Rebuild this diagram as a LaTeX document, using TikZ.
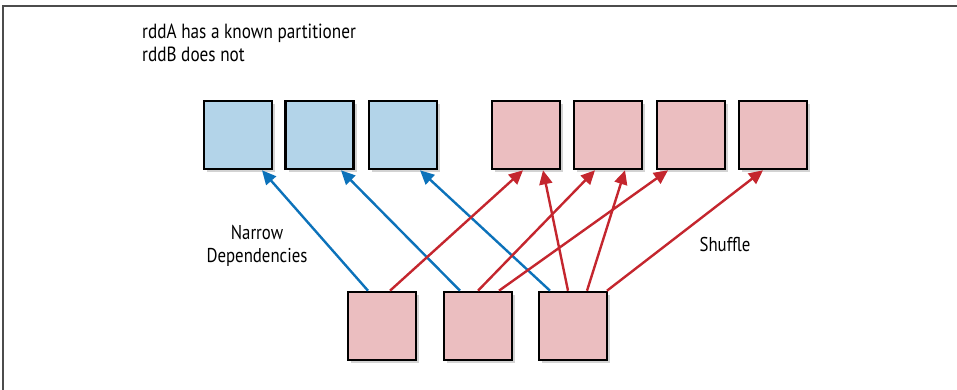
\documentclass[tikz,border=0pt]{standalone}
\usepackage{fontspec}
\setmainfont{PT Sans}[FakeStretch=0.84]
\usetikzlibrary{arrows.meta,shadows}
\definecolor{rddAcolor}{HTML}{B3D4E9}
\definecolor{rddBcolor}{HTML}{EBBEC0}
\definecolor{narrowcolor}{HTML}{0C72BA}
\definecolor{shufflecolor}{HTML}{C4262E}
\tikzset{
  part/.style={draw=black, line width=2.6pt, rectangle, minimum width=68pt, minimum height=68pt, inner sep=0pt,
    drop shadow={shadow xshift=3pt, shadow yshift=-3pt, opacity=0.35}},
  narrow/.style={draw=narrowcolor, line width=2.4pt, -{Triangle[length=14pt,width=13pt]}},
  shuffle/.style={draw=shufflecolor, line width=2.4pt, -{Triangle[length=14pt,width=13pt]}},
  lbl/.style={font=\fontsize{20pt}{23pt}\selectfont, align=center}
}

\begin{document}
\begin{tikzpicture}[x=1pt, y=-1pt]%
\useasboundingbox (0,0) rectangle (957,390);%
\draw[black!70, line width=1.5pt] (3,390) -- (3,6) -- (957,6);%
\node[anchor=north west, align=left, inner sep=0pt, font=\fontsize{20.5pt}{23pt}\selectfont] (note) at (142,24) {rddA has a known partitioner\\rddB does not};%
% parent partitions
\node[part, fill=rddAcolor] (a1) at (238,135) {};%
\node[part, fill=rddAcolor] (a2) at (319.5,135) {};%
\node[part, fill=rddAcolor] (a3) at (403,135) {};%
\node[part, fill=rddBcolor] (b1) at (526,135) {};%
\node[part, fill=rddBcolor] (b2) at (608,135) {};%
\node[part, fill=rddBcolor] (b3) at (691,135) {};%
\node[part, fill=rddBcolor] (b4) at (773,135) {};%
% child partitions
\node[part, fill=rddBcolor] (c1) at (382,326) {};%
\node[part, fill=rddBcolor] (c2) at (478,326) {};%
\node[part, fill=rddBcolor] (c3) at (573,326) {};%
% narrow dependencies
\draw[narrow] ([xshift=-14pt]c1.north) -- ([xshift=24pt]a1.south);%
\draw[narrow] ([xshift=-18pt]c2.north) -- ([xshift=21.5pt]a2.south);%
\draw[narrow] ([xshift=-23pt]c3.north) -- ([xshift=17pt]a3.south);%
% shuffle
\draw[shuffle] ([xshift=8pt]c1.north) -- ([xshift=-3pt]b1.south);%
\draw[shuffle] ([xshift=0pt]c2.north) -- ([xshift=-13pt]b2.south);%
\draw[shuffle] ([xshift=21pt]c2.north) -- ([xshift=-23pt]b3.south);%
\draw[shuffle] ([xshift=-5pt]c3.north) -- ([xshift=17pt]b1.south);%
\draw[shuffle] ([xshift=14pt]c3.north) -- ([xshift=17pt]b2.south);%
\draw[shuffle] ([xshift=34pt]c3.north) -- ([xshift=-10pt]b4.south);%
\node[lbl] (narrowlbl) at (257,246) {Narrow\\Dependencies};%
\node[lbl] (shufflelbl) at (725,244) {Shuffle};%
\end{tikzpicture}
\end{document}
